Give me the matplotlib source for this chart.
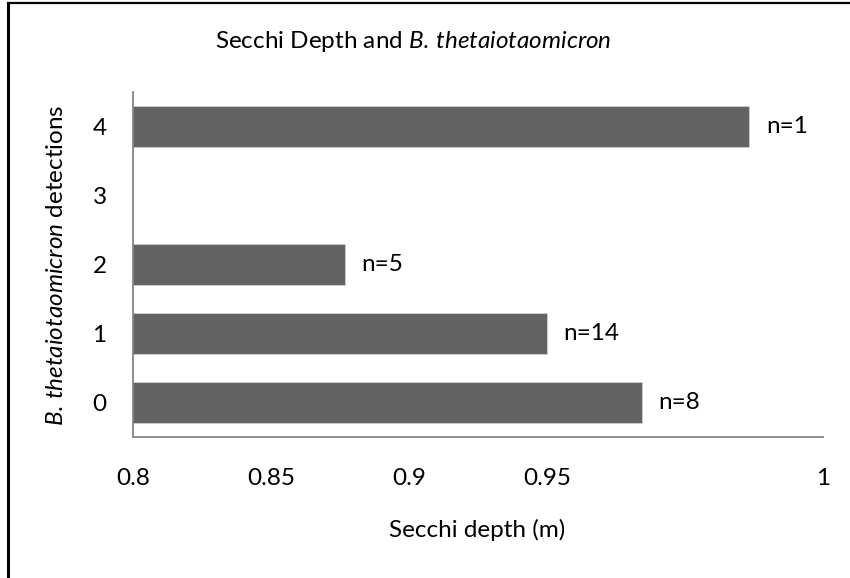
import numpy as np
import matplotlib
matplotlib.use("Agg")
import matplotlib.pyplot as plt
from matplotlib.lines import Line2D

plt.rcParams["font.family"] = ["Lato", "DejaVu Sans"]
plt.rcParams["mathtext.fontset"] = "custom"
plt.rcParams["mathtext.rm"] = "Lato"
plt.rcParams["mathtext.it"] = "Lato:italic"

# detections vs mean secchi depth; no sites with 3 detections
detections = [0, 1, 2, 3, 4]
secchi_depth = [0.9475, 0.92, 0.8614, np.nan, 0.9786]
n_sites = [8, 14, 5, None, 1]

tick_pos = [0.8, 0.84, 0.88, 0.92, 1.0]
tick_labels = ["0.8", "0.85", "0.9", "0.95", "1"]

W, H = 850, 578
fig = plt.figure(figsize=(W / 100, H / 100), dpi=100)
ax = fig.add_axes([133 / W, 1 - 437 / H, (823 - 133) / W, (437 - 92) / H])

bar_color = "#636363"
axis_color = "#868686"
fs = 17.5

ax.barh(detections, secchi_depth, height=0.58, left=0,
        color=bar_color, edgecolor="#d0d0d0", linewidth=0.6, zorder=2)
ax.set_xlim(0.8, 1.0)
ax.set_ylim(-0.5, 4.5)

for y, v, n in zip(detections, secchi_depth, n_sites):
    if n is None:
        continue
    ax.annotate(f"n={n}", (v, y), xytext=(12, 0), textcoords="offset points",
                va="center", ha="left", fontsize=fs)

ax.set_xticks(tick_pos)
ax.set_xticklabels(tick_labels)
ax.set_yticks(detections)
ax.tick_params(axis="x", length=0, pad=22, labelsize=fs)
ax.tick_params(axis="y", length=0, pad=19, labelsize=fs)

for side in ("top", "right"):
    ax.spines[side].set_visible(False)
for side in ("left", "bottom"):
    ax.spines[side].set_color(axis_color)
    ax.spines[side].set_linewidth(1.3)

species = r"$\it{B.\,thetaiotaomicron}$"
fig.text(477 / W, 1 - 530 / H, "Secchi depth (m)", ha="center", va="center", fontsize=fs)
fig.text(57 / W, 1 - 265 / H, species + " detections",
         ha="center", va="center", rotation=90, fontsize=fs)
fig.text(413 / W, 1 - 42 / H, "Secchi Depth and " + species,
         ha="center", va="center", fontsize=fs)

# outer frame (left and top edges)
fig.add_artist(Line2D([8 / W, 8 / W], [0, 1 - 3 / H], color="black", lw=2.2))
fig.add_artist(Line2D([8 / W, 1], [1 - 3 / H, 1 - 3 / H], color="black", lw=1.6))

fig.savefig("out.png", dpi=100)
